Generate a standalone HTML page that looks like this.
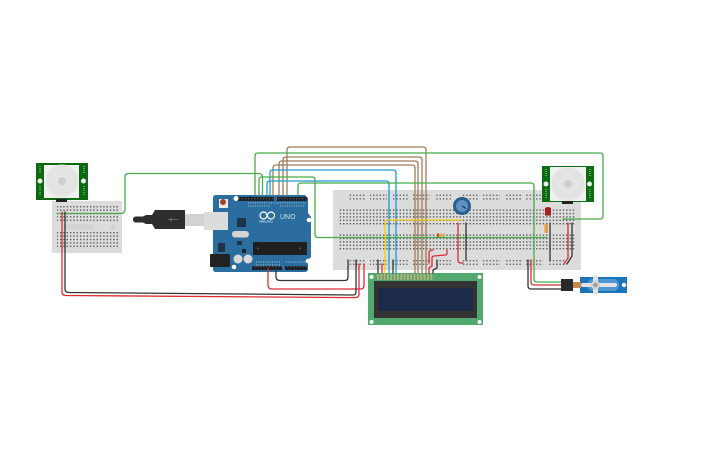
<!DOCTYPE html>
<html><head><meta charset="utf-8"><style>html,body{margin:0;padding:0;background:#fff}svg{display:block}</style></head><body>
<svg xmlns="http://www.w3.org/2000/svg" width="725" height="453" viewBox="0 0 725 453">
<defs>
<pattern id="h" width="3.33" height="3.4" patternUnits="userSpaceOnUse" x="0" y="209.400"><rect width="1.400" height="1.400" fill="#5a5a5a"/></pattern>
<pattern id="hl" width="3.33" height="3.4" patternUnits="userSpaceOnUse" x="0" y="234.400"><rect width="1.400" height="1.400" fill="#5a5a5a"/></pattern>
<pattern id="p" width="3.33" height="3.6" patternUnits="userSpaceOnUse" x="0" y="194.600"><rect width="1.400" height="1.400" fill="#666"/></pattern>
<pattern id="q" width="3.33" height="3.6" patternUnits="userSpaceOnUse" x="0" y="260"><rect width="1.400" height="1.400" fill="#666"/></pattern>
<pattern id="s" width="3.33" height="3.4" patternUnits="userSpaceOnUse" x="0" y="206"><rect width="1.400" height="1.400" fill="#5a5a5a"/></pattern>
<pattern id="s2" width="3.33" height="3.4" patternUnits="userSpaceOnUse" x="0" y="232"><rect width="1.400" height="1.400" fill="#5a5a5a"/></pattern>
<pattern id="pn" width="3.33" height="6" patternUnits="userSpaceOnUse" x="377" y="274"><rect width="1.800" height="6" fill="#b8b27a"/></pattern>
<pattern id="hd" width="3" height="4" patternUnits="userSpaceOnUse" x="238" y="197"><rect width="2.800" height="4" fill="#1c1c1c"/><rect x="1" y="1.200" width="1" height="1" fill="#666"/></pattern>
<radialGradient id="d" cx=".5" cy=".45" r=".6"><stop offset="0" stop-color="#e6e6e6"/><stop offset=".8" stop-color="#e2e2e2"/><stop offset="1" stop-color="#f7f7f7"/></radialGradient>
</defs>

<!-- small breadboard -->
<rect x="52" y="201" width="70" height="52" fill="#dcdcdc"/>
<rect x="57" y="206" width="61" height="17" fill="url(#s)"/>
<rect x="57" y="232" width="61" height="16" fill="url(#s2)"/>
<rect x="62" y="224.500" width="32" height="5" fill="#d2d2d2"/>
<circle cx="113" cy="227" r="2.500" fill="#cfcfcf"/>

<!-- large breadboard -->
<rect x="333" y="190" width="248" height="80" rx="1" fill="#dcdcdc"/>
<rect x="338" y="209" width="237" height="16" fill="url(#h)"/>
<rect x="338" y="234" width="237" height="16" fill="url(#hl)"/>
<g fill="url(#p)">
<rect x="348" y="194" width="17" height="6"/><rect x="370" y="194" width="17" height="6"/><rect x="392" y="194" width="17" height="6"/><rect x="413" y="194" width="17" height="6"/><rect x="435" y="194" width="17" height="6"/><rect x="461" y="194" width="17" height="6"/><rect x="483" y="194" width="17" height="6"/><rect x="505" y="194" width="17" height="6"/><rect x="526" y="194" width="17" height="6"/><rect x="548" y="194" width="17" height="6"/>
</g>
<g fill="url(#q)">
<rect x="348" y="260" width="17" height="6"/><rect x="370" y="260" width="17" height="6"/><rect x="392" y="260" width="17" height="6"/><rect x="413" y="260" width="17" height="6"/><rect x="435" y="260" width="17" height="6"/><rect x="461" y="260" width="17" height="6"/><rect x="483" y="260" width="17" height="6"/><rect x="505" y="260" width="17" height="6"/><rect x="526" y="260" width="17" height="6"/><rect x="548" y="260" width="17" height="6"/>
</g>

<!-- USB -->
<path d="M133 219.500q0-3 3-3h7l3-1.500h6l3-5h30v19h-30l-3-5h-6l-3-1.500h-7q-3 0-3-3z" fill="#2e2e2e"/>
<rect x="185" y="214" width="19" height="12" fill="#d2d2d2"/>
<path d="M168 219.500h10M172 217.500l-2 2 2 2" stroke="#777" stroke-width=".7" fill="none"/>

<!-- Arduino -->
<rect x="204" y="212" width="24" height="18" fill="#dcdcdc"/>
<path d="M216 195H305L308 198V213L311 217V257L308 260V270L306 272H216Q213 272 213 269V230H228V212H213V198Q213 195 216 195Z" fill="#2a6d9e"/>
<rect x="210" y="254" width="20" height="13" rx="1" fill="#222"/>
<rect x="238" y="197" width="36" height="4" fill="url(#hd)"/>
<rect x="277" y="197" width="30" height="4" fill="url(#hd)"/>
<rect x="252" y="266" width="30" height="4" fill="url(#hd)"/>
<rect x="285" y="266" width="22" height="4" fill="url(#hd)"/>
<rect x="253" y="242" width="54" height="13" fill="#1f1f1f"/>
<circle cx="258" cy="248.500" r="1.200" fill="#444"/><circle cx="300" cy="248.500" r="1.200" fill="#444"/>
<rect x="237" y="218" width="9" height="9" fill="#1e3446"/>
<rect x="232" y="231" width="17" height="6.500" rx="3.200" fill="#d4d4d4"/>
<rect x="237" y="241" width="5" height="4" fill="#1e3446"/>
<rect x="218" y="243" width="7" height="9" fill="#1e3446"/>
<rect x="242" y="249" width="4" height="4" fill="#222"/>
<rect x="219" y="199" width="9" height="9" fill="#e8e8e8"/>
<circle cx="223" cy="202" r="3" fill="#a8402e"/>
<circle cx="236" cy="198.500" r="2.500" fill="#fff"/>
<circle cx="309" cy="220" r="2.300" fill="#fff"/>
<circle cx="308" cy="261" r="2.300" fill="#fff"/>
<circle cx="234" cy="267" r="2.300" fill="#fff"/>
<circle cx="238" cy="259" r="4.500" fill="#d8d8d8"/><circle cx="248" cy="259" r="4.500" fill="#d8d8d8"/>
<g fill="none" stroke="#fff" stroke-width="1.200"><circle cx="263.500" cy="215.500" r="3.500"/><circle cx="271" cy="215.500" r="3.500"/></g>
<text x="280" y="219" font-family="Liberation Sans,sans-serif" font-size="7" fill="#cfe0ec">UNO</text>
<text x="259" y="222.500" font-family="Liberation Sans,sans-serif" font-size="3" fill="#fff">ARDUINO</text>
<g stroke="#a9c6da" stroke-width="1" stroke-dasharray="1 1.300"><path d="M248 203h58M248 206h22M280 206h24M256 262h24M286 262h20M256 265h24"/></g>

<!-- LCD -->
<rect x="368" y="273" width="115" height="52" fill="#52a86e"/>
<rect x="374" y="281" width="103" height="37" fill="#333"/>
<rect x="378" y="288" width="95" height="23" fill="#1c2b4a"/>
<g fill="#fff"><circle cx="371.500" cy="277" r="2"/><circle cx="479.500" cy="277" r="2"/><circle cx="371.500" cy="322" r="2"/><circle cx="479.500" cy="322" r="2"/></g>
<rect x="377" y="274" width="57" height="6" fill="url(#pn)"/>

<!-- pot, LED, resistors -->
<circle cx="462" cy="206" r="9" fill="#2a5f8c"/><circle cx="462" cy="206" r="6" fill="#5f92c4"/><path d="M462 206l4 2.500" stroke="#123" stroke-width="1"/>
<rect x="436" y="233.500" width="9" height="3.500" rx="1" fill="#d9b070"/><rect x="437" y="233.500" width="2" height="3.500" fill="#c0552a"/>
<rect x="544.500" y="224" width="3.500" height="9" rx="1" fill="#e0a040"/>
<path d="M545 208q3-2 6 0v7h-6z" fill="#a32020"/><rect x="545" y="214" width="6" height="1.500" fill="#8a1c1c"/>

<!-- servo -->
<rect x="580" y="277" width="47" height="16" fill="#1b75bb"/>
<rect x="587" y="279" width="32" height="12" rx="6" fill="#4f97d3"/>
<circle cx="624" cy="285" r="2.200" fill="#fff"/>
<path d="M573 282h8v6h-8z" fill="#c98a50"/>
<rect x="581" y="283" width="36" height="4" rx="2" fill="#e4e4e4"/>
<rect x="593" y="275" width="5" height="20" rx="2.500" fill="#e4e4e4"/>
<circle cx="595.500" cy="285" r="4.500" fill="#d0d0d0"/><circle cx="595.500" cy="285" r="2" fill="#999"/>

<!-- PIR left -->
<rect x="36" y="163" width="52" height="37" fill="#0a6a0e"/>
<rect x="44" y="165" width="35" height="33" fill="#f0f0f0"/>
<circle cx="62" cy="181" r="16" fill="url(#d)" stroke="#e8e8e8"/>
<circle cx="62" cy="181" r="4" fill="#cfcfcf"/>
<circle cx="40" cy="181" r="2.500" fill="#eee"/><circle cx="83.500" cy="181" r="2.500" fill="#eee"/>
<path d="M40 166v8M84 166v8M40 186v9M84 186v9" stroke="#9cc29c" stroke-width="1.200" stroke-dasharray="1 1"/>
<rect x="56" y="199" width="11" height="3" fill="#222"/>
<!-- PIR right -->
<rect x="542" y="166" width="52" height="36" fill="#0a6a0e"/>
<rect x="550" y="167" width="36" height="34" fill="#f0f0f0"/>
<circle cx="568" cy="184" r="16.500" fill="url(#d)" stroke="#e8e8e8"/>
<circle cx="568" cy="184" r="4" fill="#cfcfcf"/>
<circle cx="546" cy="184" r="2.500" fill="#eee"/><circle cx="589.500" cy="184" r="2.500" fill="#eee"/>
<path d="M546 169v8M590 169v8M546 189v9M590 189v9" stroke="#9cc29c" stroke-width="1.200" stroke-dasharray="1 1"/>
<rect x="562" y="201" width="11" height="3" fill="#222"/>

<!-- wires -->
<g fill="none" stroke-width="1.300" stroke-linecap="round">
<g stroke="#a07c58">
<path d="M273 195V168Q273 165 276 165H412Q415 165 415 168V273"/>
<path d="M279 195V164Q279 161 282 161H415Q418 161 418 164V273"/>
<path d="M283 195V160Q283 157 286 157H419Q422 157 422 160V273"/>
<path d="M287 195V150Q287 147 290 147H423Q426 147 426 150V273"/>
</g>
<g stroke="#1f9ad2">
<path d="M267 195V184Q267 181 270 181H386Q389 181 389 184V273"/>
<path d="M270 195V173Q270 170 273 170H393Q396 170 396 173V273"/>
</g>
<g stroke="#46ad4a">
<path d="M57 213.500H120Q125 213.500 125 209V177Q125 173.500 129 173.500H258Q262.500 173.500 262.500 177V195"/>
<path d="M255 195V156Q255 153 258 153H600Q603 153 603 156V216Q603 219 600 219H563"/>
<path d="M259 195V180Q259 177 262 177H312Q315 177 315 180V234Q315 237.500 318 237.500H547"/>
<path d="M298 195V186Q298 183 301 183H531Q534 183 534 186V279Q534 282 537 282H562"/>
</g>
<path d="M385 273V223Q385 220 388 220H462" stroke="#efcb12"/>
<g stroke="#dd2c31">
<path d="M62 212V292Q62 295.500 66 295.500L355 297.600Q359 297.600 359 294V264"/>
<path d="M268 268V285Q268 289 272 289H361Q364 289 364 285V264"/>
<path d="M382 264V273M458 223V260Q458 263 461 263H463"/>
<path d="M429 273V268L432 266V258Q432 256 434 256L445 255Q447 255 447 253V250"/>
<path d="M429 263V253Q429 250 433 250"/>
<path d="M531 260V282Q531 285 534 285H562"/>
<path d="M568 223V258L564 264"/>
</g>
<g stroke="#333">
<path d="M65 212V289Q65 292.500 69 292.500L353 295Q356 295 356 292V260"/>
<path d="M276 268V277Q276 280.500 280 280.500H345Q348 280.500 348 277V260"/>
<path d="M378 260V273M393 260V273M466 223V260"/>
<path d="M433 273V270L437 268V260"/>
<path d="M528 260V286Q528 289 531 289H562"/>
<path d="M550 223V261M572 223V256L567 264"/>
</g>
</g>
<rect x="561" y="279" width="12" height="12" fill="#2a2a2a"/>
</svg>
</body></html>
